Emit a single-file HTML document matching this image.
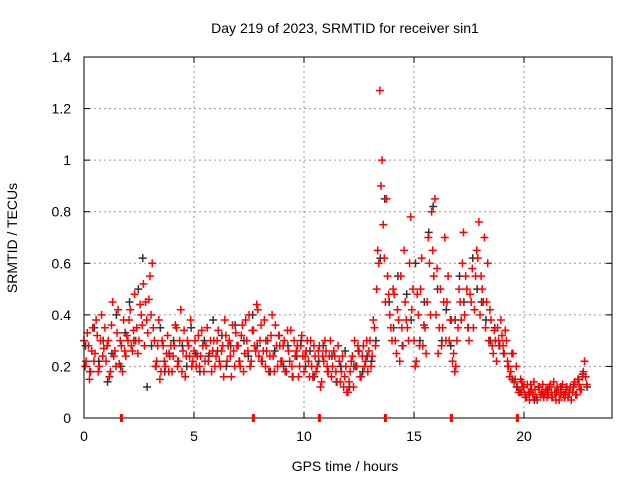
<!DOCTYPE html>
<html><head><meta charset="utf-8"><style>
body{margin:0;background:#fff;}
svg{display:block;font-family:"Liberation Sans",sans-serif;}
</style></head><body>
<svg id="chart" width="640" height="480">
<text x="345" y="33" font-size="14" text-anchor="middle">Day 219 of 2023, SRMTID for receiver sin1</text>
<text x="345" y="471" font-size="14" text-anchor="middle">GPS time / hours</text>
<text transform="translate(17,238) rotate(-90)" font-size="14" text-anchor="middle">SRMTID / TECUs</text>
<g id="grid"></g>
<g id="ticks"></g>
<g id="marks"></g>
<rect x="84" y="57" width="528" height="361" fill="none" stroke="#000" stroke-width="1"/>
<g id="zeros"></g>
</svg>
<script>
const xTicks=[0,5,10,15,20];
const yTicks=[0,0.2,0.4,0.6,0.8,1,1.2,1.4];
const yTickLabels=["0","0.2","0.4","0.6","0.8","1","1.2","1.4"];
const redA=[0.30,0.22,0.28,0.18,0.35,0.25,0.32,0.20,0.40,0.27,0.22,0.30,0.18,0.45,0.26,0.33,0.21,0.28,0.38,0.24,0.30,0.42,0.26,0.48,0.35,0.30,0.40,0.52,0.45,0.33,0.55,0.60,0.30,0.22,0.38,0.18,0.28,0.20,0.32,0.24,0.18,0.28,0.35,0.22,0.42,0.26,0.16,0.30,0.24,0.20,0.26,0.20,0.32,0.24,0.28,0.22,0.35,0.25,0.18,0.30,0.24,0.34,0.20,0.28,0.38,0.22,0.30,0.16,0.26,0.33,0.28,0.20,0.36,0.25,0.30,0.40,0.22,0.34,0.26,0.42,0.30,0.22,0.38,0.26,0.18,0.32,0.24,0.36,0.20,0.28,0.22,0.30,0.18,0.26,0.34,0.16,0.24,0.28,0.20,0.32,0.18,0.26,0.22,0.30,0.16,0.24,0.20,0.28,0.14,0.22,0.26,0.18,0.30,0.20,0.24,0.14,0.22,0.18,0.12,0.20,0.10,0.18,0.24,0.30,0.20,0.26,0.16,0.28,0.22,0.18,0.30,0.24,0.35,0.50,0.60,0.90,0.75,0.45,0.55,0.40,0.30,0.48,0.25,0.38,0.55,0.28,0.45,0.35,0.60,0.42,0.30,0.22,0.40,0.50,0.28,0.35,0.45,0.60,0.80,0.55,0.40,0.25,0.50,0.35,0.70,0.45,0.30,0.38,0.25,0.20,0.35,0.45,0.60,0.40,0.50,0.30,0.45,0.35,0.55,0.62,0.40,0.50,0.70,0.45,0.30,0.38,0.25,0.30,0.35,0.28,0.32,0.25,0.30,0.20,0.18,0.25,0.15,0.12,0.10,0.14,0.12,0.08,0.10,0.13,0.09,0.11,0.07,0.12,0.10,0.08,0.11,0.09,0.13,0.08,0.10,0.12,0.07,0.10,0.09,0.11,0.08,0.12,0.10,0.14,0.09,0.13,0.11,0.18,0.16];
const redB=[0.20,0.33,0.15,0.26,0.22,0.38,0.18,0.30,0.24,0.35,0.28,0.16,0.36,0.24,0.20,0.42,0.30,0.18,0.26,0.32,0.38,0.28,0.34,0.30,0.25,0.44,0.36,0.28,0.38,0.46,0.40,0.35,0.20,0.28,0.15,0.30,0.22,0.25,0.18,0.28,0.24,0.36,0.20,0.30,0.18,0.34,0.24,0.28,0.38,0.22,0.30,0.24,0.20,0.34,0.18,0.28,0.22,0.30,0.26,0.20,0.30,0.22,0.26,0.16,0.32,0.28,0.24,0.36,0.20,0.28,0.22,0.32,0.18,0.38,0.26,0.20,0.34,0.28,0.44,0.24,0.36,0.26,0.20,0.30,0.24,0.40,0.18,0.28,0.32,0.22,0.28,0.18,0.34,0.22,0.20,0.30,0.26,0.16,0.28,0.24,0.24,0.30,0.16,0.20,0.28,0.18,0.26,0.12,0.24,0.30,0.20,0.24,0.16,0.26,0.18,0.28,0.14,0.24,0.16,0.10,0.14,0.22,0.12,0.20,0.28,0.16,0.24,0.20,0.30,0.26,0.20,0.38,0.28,0.65,1.27,1.00,0.62,0.85,0.48,0.35,0.50,0.30,0.42,0.22,0.35,0.65,0.38,0.30,0.78,0.50,0.20,0.48,0.28,0.62,0.36,0.25,0.70,0.40,0.65,0.85,0.58,0.35,0.28,0.45,0.30,0.55,0.38,0.22,0.18,0.30,0.50,0.38,0.72,0.55,0.35,0.48,0.58,0.42,0.65,0.76,0.55,0.45,0.35,0.60,0.42,0.28,0.34,0.22,0.30,0.38,0.28,0.34,0.22,0.16,0.25,0.14,0.20,0.10,0.15,0.12,0.09,0.13,0.07,0.11,0.14,0.08,0.12,0.09,0.13,0.10,0.08,0.12,0.10,0.14,0.07,0.11,0.09,0.13,0.08,0.12,0.10,0.07,0.12,0.09,0.15,0.11,0.16,0.22,0.13];
const black=[0.28,0.18,0.35,0.22,0.30,0.14,0.25,0.40,0.20,0.33,0.45,0.30,0.50,0.62,0.12,0.28,0.20,0.35,0.18,0.25,0.30,0.22,0.28,0.20,0.35,0.25,0.18,0.30,0.24,0.38,0.26,0.32,0.20,0.28,0.36,0.22,0.30,0.24,0.40,0.28,0.22,0.30,0.18,0.26,0.32,0.20,0.28,0.16,0.24,0.30,0.20,0.26,0.16,0.22,0.28,0.18,0.24,0.14,0.20,0.26,0.12,0.20,0.26,0.18,0.24,0.22,0.30,0.62,0.85,0.45,0.35,0.55,0.28,0.48,0.38,0.60,0.30,0.45,0.72,0.82,0.50,0.30,0.42,0.28,0.38,0.55,0.45,0.35,0.62,0.50,0.45,0.38,0.30,0.35,0.28,0.25,0.20,0.15,0.12,0.10,0.08,0.10,0.07,0.12,0.09,0.11,0.08,0.10,0.12,0.09,0.10,0.13,0.15,0.17,0.12];
const zeroTimes=[1.7,7.7,10.7,13.7,16.7,19.7];

const NS="http://www.w3.org/2000/svg";
const X0=84,X1=612,Y0=418,Y1=57,XMAX=24,YMAX=1.4;
const xs=v=>X0+v/XMAX*(X1-X0);
const ys=v=>Y0-v/YMAX*(Y0-Y1);
function mk(tag,attrs,parent){const e=document.createElementNS(NS,tag);for(const k in attrs)e.setAttribute(k,attrs[k]);parent.appendChild(e);return e;}
const grid=document.getElementById('grid'),ticks=document.getElementById('ticks'),marks=document.getElementById('marks'),zeros=document.getElementById('zeros');
yTicks.forEach((v,i)=>{
  const y=ys(v);
  if(i>0&&i<yTicks.length-1){const g=mk('line',{x1:X0,x2:X1,y1:y,y2:y,stroke:'#999','stroke-dasharray':'2,3'},grid);
  
  }
  mk('line',{x1:X0,x2:X0+6,y1:y,y2:y,stroke:'#000'},ticks);
  mk('line',{x1:X1,x2:X1-6,y1:y,y2:y,stroke:'#000'},ticks);
  const t=mk('text',{x:X0-13,y:y+5,'font-size':14,'text-anchor':'end'},ticks);
  t.textContent=yTickLabels[i];
  
  
});
xTicks.forEach(v=>{
  const x=xs(v);
  if(v>0){const g=mk('line',{x1:x,x2:x,y1:Y0,y2:Y1,stroke:'#999','stroke-dasharray':'2,3'},grid);
  
  }
  mk('line',{x1:x,x2:x,y1:Y0,y2:Y0-6,stroke:'#000'},ticks);
  mk('line',{x1:x,x2:x,y1:Y1,y2:Y1+6,stroke:'#000'},ticks);
  const t=mk('text',{x:x,y:Y0+23,'font-size':14,'text-anchor':'middle'},ticks);
  t.textContent=String(v);
  
  
});
function plus(x,y,c,name,par){
  const p=mk('path',{d:`M${x-4},${y}h8M${x},${y-4}v8`,stroke:c,'stroke-width':1.5,fill:'none'},par);
  
  
}
black.forEach((v,i)=>plus(xs(i*0.2+0.07),ys(v),'#333','black-point',marks));
redA.forEach((v,i)=>plus(xs(i*0.1),ys(v),'#f00','red-point',marks));
redB.forEach((v,i)=>plus(xs(i*0.1+0.05),ys(v),'#f00','red-point',marks));
zeroTimes.forEach(t=>{
  const p=mk('rect',{x:xs(t)-1.5,y:Y0-4,width:3,height:8,fill:'#f00'},zeros);
  
  
});
</script>
</body></html>
